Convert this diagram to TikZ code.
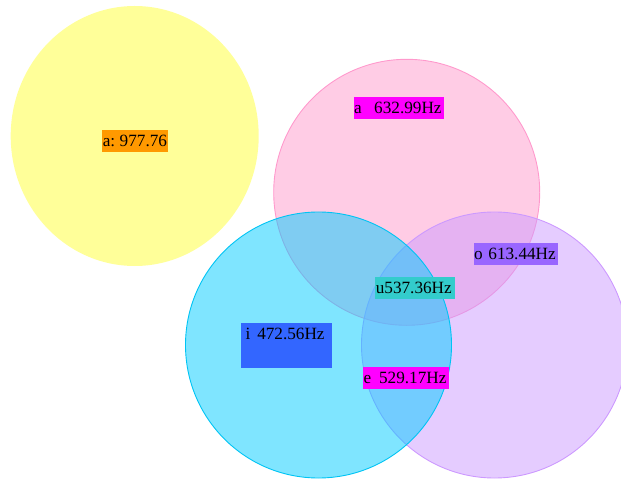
\documentclass[tikz,border=0pt]{standalone}
\usepackage{fontspec}
\setmainfont{Liberation Serif}
\definecolor{cyel}{HTML}{FFFF33}
\definecolor{cpink}{HTML}{FF99CC}
\definecolor{ccyan}{HTML}{00CCFF}
\definecolor{cpurp}{HTML}{CC99FF}
\definecolor{borpink}{HTML}{FF99CC}
\definecolor{borcyan}{HTML}{00C4F4}
\definecolor{borpurp}{HTML}{CC99FF}
\definecolor{borange}{HTML}{FF9900}
\definecolor{bmag}{HTML}{FF00FF}
\definecolor{bpurp}{HTML}{9966FF}
\definecolor{bteal}{HTML}{33CCCC}
\definecolor{bblue}{HTML}{3366FF}
\begin{document}
\begin{tikzpicture}[x=1pt,y=-1pt,
  venn/.style={fill opacity=0.5, line width=0.9pt},
  lbl/.style={anchor=north west, inner xsep=0.6pt, inner ysep=0pt,
    text height=16.4pt, text depth=5.2pt, align=left,
    font=\fontsize{17.2}{19}\selectfont, text=black}]
\useasboundingbox (0,0) rectangle (621,481);
% circles
\fill[cyel, fill opacity=0.5] (134.7,136) ellipse [x radius=124, y radius=130];
\path[venn, fill=cpink, draw=borpink] (406.7,192.3) circle [radius=133];
\path[venn, fill=cpurp, draw=borpurp] (494.5,345) circle [radius=133];
\path[venn, fill=ccyan, draw=borcyan] (318.5,345) circle [radius=133];
% labels
\node[lbl, fill=borange, text width=64.8pt] (la1) at (102,130) {a:\hspace{4.5pt}977.76};
\node[lbl, fill=bmag, text width=89.5pt] (la2) at (353.3,97.3) {a\hspace{12.5pt}632.99Hz};
\node[lbl, fill=bpurp, text width=82.8pt] (lo) at (473.3,242.7) {o 613.44Hz};
\node[lbl, fill=bteal, text width=78.8pt] (lu) at (375,276.7) {u537.36Hz};
\node[lbl, fill=bblue, text width=89.8pt, text height=17.4pt, text depth=28pt] (li) at (240.7,322.3) {\hspace{4pt}i\hspace{7pt}472.56Hz};
\node[lbl, fill=bmag, text width=85pt] (le) at (362.7,366.7) {e\hspace{8pt}529.17Hz};
\end{tikzpicture}
\end{document}
